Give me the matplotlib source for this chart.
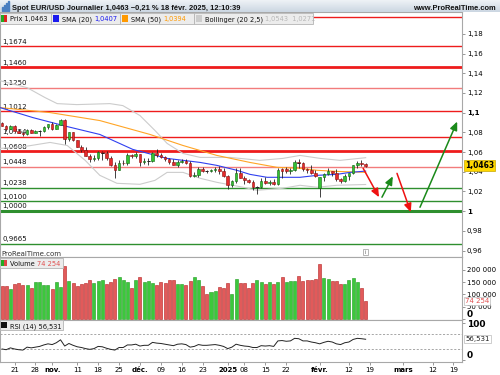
import matplotlib
matplotlib.use("Agg")
import matplotlib.pyplot as plt
import numpy as np
import pandas as pd
from matplotlib.patches import Rectangle
from matplotlib.colors import LinearSegmentedColormap

plt.rcParams['font.family'] = ['DejaVu Sans']

# ---------------- data ----------------
opens = [1.0893,1.0862,1.0833,1.0867,1.0816,1.0797,1.0782,1.0827,1.0797,1.0815,
         1.0817,1.0856,1.0884,1.0833,1.0878,1.0929,1.0730,1.0801,1.0719,1.0655,
         1.0624,1.0565,1.0530,1.0541,1.0598,1.0595,1.0542,1.0472,1.0418,1.0494,
         1.0487,1.0566,1.0558,1.0577,1.0497,1.0512,1.0512,1.0587,1.0566,1.0555,
         1.0529,1.0499,1.0469,1.0501,1.0513,1.0489,1.0353,1.0364,1.0430,1.0407,
         1.0406,1.0422,1.0428,1.0405,1.0354,1.0265,1.0307,1.0389,1.0341,1.0318,
         1.0301,1.0244,1.0244,1.0307,1.0290,1.0300,1.0272,1.0430,1.0425,1.0409,
         1.0416,1.0495,1.0493,1.0430,1.0422,1.0391,1.0240,1.0345,1.0379,1.0405,
         1.0383,1.0329,1.0307,1.0361,1.0383,1.0465,1.0493,1.0483]
highs = [1.0903,1.0872,1.0872,1.0870,1.0834,1.0805,1.0838,1.0837,1.0824,1.0827,
         1.0862,1.0888,1.0905,1.0890,1.0937,1.0937,1.0805,1.0807,1.0724,1.0670,
         1.0653,1.0580,1.0566,1.0610,1.0608,1.0610,1.0556,1.0497,1.0515,1.0517,
         1.0590,1.0584,1.0597,1.0578,1.0540,1.0545,1.0596,1.0629,1.0594,1.0560,
         1.0540,1.0527,1.0520,1.0526,1.0525,1.0514,1.0402,1.0444,1.0445,1.0416,
         1.0429,1.0444,1.0456,1.0436,1.0367,1.0317,1.0436,1.0438,1.0354,1.0324,
         1.0312,1.0253,1.0332,1.0352,1.0312,1.0322,1.0435,1.0438,1.0452,1.0436,
         1.0521,1.0532,1.0497,1.0442,1.0466,1.0417,1.0347,1.0385,1.0442,1.0407,
         1.0428,1.0337,1.0374,1.0388,1.0470,1.0513,1.0515,1.0490]
lows = [1.0860,1.0811,1.0830,1.0812,1.0790,1.0761,1.0772,1.0791,1.0790,1.0762,
        1.0806,1.0838,1.0826,1.0833,1.0873,1.0683,1.0717,1.0714,1.0652,1.0596,
        1.0560,1.0496,1.0514,1.0524,1.0522,1.0522,1.0462,1.0335,1.0420,1.0467,
        1.0467,1.0545,1.0541,1.0460,1.0483,1.0472,1.0502,1.0549,1.0545,1.0510,
        1.0483,1.0465,1.0452,1.0489,1.0478,1.0343,1.0344,1.0343,1.0395,1.0389,
        1.0400,1.0397,1.0381,1.0352,1.0226,1.0249,1.0290,1.0337,1.0273,1.0288,
        1.0213,1.0178,1.0232,1.0275,1.0268,1.0266,1.0268,1.0342,1.0390,1.0376,
        1.0410,1.0435,1.0412,1.0384,1.0381,1.0350,1.0141,1.0311,1.0365,1.0356,
        1.0311,1.0284,1.0299,1.0315,1.0373,1.0440,1.0460,1.0450]
closes = [1.0862,1.0833,1.0867,1.0816,1.0797,1.0782,1.0827,1.0797,1.0815,1.0817,
          1.0856,1.0884,1.0833,1.0878,1.0929,1.0730,1.0801,1.0719,1.0655,1.0624,
          1.0565,1.0530,1.0541,1.0598,1.0595,1.0542,1.0472,1.0418,1.0494,1.0487,
          1.0566,1.0558,1.0577,1.0497,1.0512,1.0512,1.0587,1.0566,1.0555,1.0529,
          1.0499,1.0469,1.0501,1.0513,1.0489,1.0353,1.0364,1.0430,1.0407,1.0406,
          1.0422,1.0428,1.0405,1.0354,1.0265,1.0307,1.0389,1.0341,1.0318,1.0301,
          1.0244,1.0246,1.0307,1.0290,1.0300,1.0272,1.0417,1.0410,1.0409,1.0416,
          1.0495,1.0493,1.0430,1.0422,1.0391,1.0362,1.0345,1.0379,1.0405,1.0383,
          1.0329,1.0307,1.0361,1.0383,1.0465,1.0493,1.0483,1.0463]

volume_k = [135,135,122,141,148,139,139,126,150,150,
            139,139,122,150,130,216,155,146,134,143,
            146,159,146,155,159,141,151,163,171,159,
            151,125,158,171,150,155,146,139,150,148,
            159,159,141,143,139,155,171,159,135,102,
            110,116,129,125,146,102,163,146,146,125,
            146,158,150,141,150,141,151,173,150,155,
            155,177,155,159,159,163,225,169,163,155,
            155,141,141,159,169,151,125,74.254]
volume_dir = ("RRGRRRGRGG" "GGRGGRGRRR" "RRGGGRRRGG" "GRGRGGGRRR"
              "RRGGRRGGRR" "GGRRRGGRRR" "RGGRGRGRGG" "GRRRRRRGGR" "RRGGGGRR")

rsi = [30,28,33,30,28,27,35,33,35,37,41,44,42,47,55,38,45,40,36,34,
       31,29,31,37,36,32,29,27,34,34,41,41,43,38,40,40,48,46,45,43,
       41,39,43,44,42,35,37,42,40,40,41,42,40,37,31,35,43,40,38,37,
       34,34,39,38,39,37,52,53,51,52,59,58,52,52,49,47,44,48,51,49,
       44,42,47,49,56,59,58,56.5]

sma20_x = [-0.5,7.4,15.6,23.4,31.3,39.5,47.4,51.4,56.2,59.3,63.4,67.2,71.3,75.4,80.1,83.3,87]
sma20_y = [1.1052,1.0950,1.0859,1.0779,1.0627,1.0536,1.0495,1.0465,1.0415,1.0374,1.0344,1.0344,1.0344,1.0364,1.0374,1.0394,1.0407]
sma50_x = [-0.5,11.5,23.4,35.4,43.3,51.4,59.3,65.8,71.3,75.4,80.1,87]
sma50_y = [1.1052,1.1001,1.0920,1.0779,1.0667,1.0566,1.0495,1.0445,1.0435,1.0415,1.0404,1.0394]
bb_up_x = [-0.5,6.0,10.3,13.2,17.9,25.8,28.9,33.0,36.6,39.5,43.3,47.4,54.5,61.7,67.2,71.3,76.1,80.9,87]
bb_up_y = [1.1325,1.1254,1.1153,1.1092,1.1082,1.1092,1.1072,1.0971,1.0819,1.0688,1.0586,1.0546,1.0546,1.0516,1.0536,1.0566,1.0536,1.0516,1.0543]
bb_lo_x = [-0.5,5.5,11.5,15.6,19.9,23.4,27.5,33.0,36.6,39.5,43.3,47.4,51.4,57.7,61.0,67.2,71.3,75.4,80.1,87]
bb_lo_y = [1.0637,1.0657,1.0698,1.0667,1.0516,1.0364,1.0283,1.0273,1.0313,1.0394,1.0394,1.0334,1.0293,1.0243,1.0212,1.0233,1.0263,1.0243,1.0263,1.0271]

levels = [1.1970,1.1674,1.1460,1.1250,1.1012,1.0754,1.0608,1.0448,1.0238,1.0100,1.0000,0.9665]
level_labels = ["","1,1674","1,1460","1,1250","1,1012","1,0754","1,0608","1,0448","1,0238","1,0100","1,0000","0,9665"]
level_kind = ["r","r","r2","rl","r","r","r2","rl","g","g","g2","g"]

arrows_from = [(86.4,1.0435),(90.9,1.0142),(94.5,1.0384),(100.0,1.0040)]
arrows_to = [(90.2,1.0142),(93.5,1.0354),(97.8,0.9990),(108.9,1.0910)]
arrow_kind = ["r","g","r","g"]

tick_dates = ["2024-10-21","2024-10-28","2024-11-01","2024-11-11","2024-11-18","2024-11-25",
              "2024-12-02","2024-12-09","2024-12-16","2024-12-23","2025-01-02","2025-01-08",
              "2025-01-15","2025-01-22","2025-02-03","2025-02-12","2025-02-19","2025-03-03",
              "2025-03-12","2025-03-19"]
tick_labels = ["21","28","nov.","11","18","25","déc.","09","16","23","2025","08","15","22",
               "févr.","12","19","mars","12","19"]
bold_ticks = {"nov.","déc.","2025","févr.","mars"}

price_ticks = [1.18,1.16,1.14,1.12,1.10,1.08,1.06,1.04,1.02,1.00,0.98,0.96]
price_tick_labels = ["1,18","1,16","1,14","1,12","1,1","1,08","1,06","1,04","1,02","1","0,98","0,96"]
vol_ticks = [0,50000,100000,150000,200000]
vol_tick_labels = ["0","50 000","100 000","150 000","200 000"]

# ---------------- layout ----------------
W, H = 500, 375
fig = plt.figure(figsize=(5, 3.75), dpi=100)
fig.patch.set_facecolor("white")

def rect(x0, y0, x1, y1):
    return [x0 / W, 1 - y1 / H, (x1 - x0) / W, (y1 - y0) / H]

days = pd.bdate_range("2024-10-16", "2025-03-31")
days = days[~days.isin(pd.to_datetime(["2024-12-25", "2025-01-01"]))]
pos_of = {d.strftime("%Y-%m-%d"): i for i, d in enumerate(days)}
tick_pos = [pos_of[d] for d in tick_dates]

XMIN, XMAX = -0.48, 110.05
RIGHT = 462
ax = fig.add_axes(rect(0, 12, RIGHT, 257))
axv = fig.add_axes(rect(0, 257, RIGHT, 320))
axr = fig.add_axes(rect(0, 320, RIGHT, 362))

spine_c = "#a8a8a8"
for a in (ax, axv, axr):
    a.set_xlim(XMIN, XMAX)
    a.set_facecolor("white")
    for s in a.spines.values():
        s.set_color(spine_c)
        s.set_linewidth(0.8)
    a.yaxis.tick_right()
    a.tick_params(axis="y", which="both", length=2, width=0.6, color="#888888",
                  labelsize=5, pad=1.5)
    a.tick_params(axis="x", length=0)
    a.set_xticks([])

# main panel
ax.set_ylim(0.9535, 1.2022)
x = np.arange(len(closes))
ax.set_yticks(price_ticks)
ax.set_yticklabels(price_tick_labels)
for lab in ax.get_yticklabels():
    if lab.get_text() in ("1,1", "1"):
        lab.set_fontweight("bold")

style = {"r": ("#ee1c1c", 1.0), "r2": ("#ee1c1c", 2.0), "rl": ("#f27c7c", 1.0),
         "g": ("#2f8f2f", 1.0), "g2": ("#2f8f2f", 2.2)}
for lv, lab, k in zip(levels, level_labels, level_kind):
    c, lw = style[k]
    ax.axhline(lv, color=c, lw=lw, zorder=1)
    if lab:
        ax.annotate(lab, xy=(0, lv), xycoords=("axes fraction", "data"),
                    xytext=(1.5, 2.0), textcoords="offset points",
                    fontsize=5, va="baseline", ha="left", color="#111111", zorder=2)

ax.plot(bb_up_x, bb_up_y, color="#cccccc", lw=0.8, zorder=3)
ax.plot(bb_lo_x, bb_lo_y, color="#cccccc", lw=0.8, zorder=3)
ax.plot(sma50_x, sma50_y, color="#ffa526", lw=0.8, zorder=3)
ax.plot(sma20_x, sma20_y, color="#3040f0", lw=0.8, zorder=3)

o = np.array(opens); c = np.array(closes)
up = c >= o
ax.vlines(x, lows, highs, color="#222222", lw=0.6, zorder=4)
ax.bar(x[up], (c - o)[up], bottom=o[up], width=0.62, color="#33c233",
       edgecolor="#116611", linewidth=0.4, zorder=5)
ax.bar(x[~up], (o - c)[~up], bottom=c[~up], width=0.62, color="#e52b2b",
       edgecolor="#8a0f0f", linewidth=0.4, zorder=5)
flat = np.abs(c - o) < 0.0004
ax.hlines(c[flat], x[flat] - 0.4, x[flat] + 0.4, color="#222222", lw=0.7, zorder=6)

for (x0, y0), (x1, y1), k in zip(arrows_from, arrows_to, arrow_kind):
    col = "#ee1111" if k == "r" else "#1a8a1a"
    ax.annotate("", xy=(x1, y1), xytext=(x0, y0),
                arrowprops=dict(arrowstyle="-|>,head_length=0.5,head_width=0.22",
                                color=col, lw=1.1, shrinkA=0, shrinkB=0), zorder=7)

ax.annotate("1,0463", xy=(1, closes[-1]), xycoords=("axes fraction", "data"),
            xytext=(2.2, 0), textcoords="offset points", fontsize=5.5,
            fontweight="bold", va="center", ha="left", annotation_clip=False,
            bbox=dict(boxstyle="square,pad=0.15", fc="#ffd700", ec="#c8a800", lw=0.5),
            zorder=10)

# volume panel
axv.set_ylim(-4082, 253000)
vol = np.array(volume_k) * 1000
vcol = ["#3cc83c" if d == "G" else "#e25a5a" for d in volume_dir]
vedge = ["#1f9a1f" if d == "G" else "#b52020" for d in volume_dir]
axv.bar(x, vol, width=0.72, color=vcol, edgecolor=vedge, linewidth=0.4, zorder=3)
axv.set_yticks(vol_ticks)
axv.set_yticklabels(vol_tick_labels)
for lab in axv.get_yticklabels():
    if lab.get_text() == "0":
        lab.set_fontweight("bold"); lab.set_fontsize(6.5); lab.set_va("bottom")
axv.annotate("74 254", xy=(1, vol[-1]), xycoords=("axes fraction", "data"),
             xytext=(2.2, 0), textcoords="offset points", fontsize=5,
             color="#e05050", va="center", ha="left", annotation_clip=False,
             bbox=dict(boxstyle="square,pad=0.15", fc="white", ec="#bbbbbb", lw=0.5),
             zorder=10)

# RSI panel
axr.set_ylim(-5.5, 109)
axr.axhline(70, color="#999999", lw=0.6, ls=(0, (2.5, 2)))
axr.axhline(30, color="#999999", lw=0.6, ls=(0, (2.5, 2)))
axr.plot(x, rsi, color="#222222", lw=0.7)
axr.set_yticks([0, 100])
axr.set_yticklabels(["0", "100"])
for lab in axr.get_yticklabels():
    lab.set_fontweight("bold"); lab.set_fontsize(6.5)
    if lab.get_text() == "0":
        lab.set_va("bottom")
axr.annotate("56,531", xy=(1, rsi[-1]), xycoords=("axes fraction", "data"),
             xytext=(2.2, 0), textcoords="offset points", fontsize=5,
             color="#222222", va="center", ha="left", annotation_clip=False,
             bbox=dict(boxstyle="square,pad=0.15", fc="white", ec="#bbbbbb", lw=0.5),
             zorder=10)
axr.set_xticks(tick_pos)
axr.set_xticklabels(tick_labels)
axr.tick_params(axis="x", length=2, width=0.6, color="#888888", labelsize=5, pad=1.5,
                direction="out")
for lab in axr.get_xticklabels():
    if lab.get_text() in bold_ticks:
        lab.set_fontweight("bold")

# ---------------- header & legend boxes ----------------
hdr = fig.add_axes(rect(0, 0, 500, 12))
grad = np.linspace(0, 1, 20).reshape(-1, 1)
cmap = LinearSegmentedColormap.from_list("hdr", ["#eef2f6", "#ccd7e2"])
hdr.imshow(grad, aspect="auto", cmap=cmap, extent=[0, 1, 0, 1], origin="upper")
hdr.set_axis_off()
for i, hgt in enumerate([0.35, 0.55, 0.75, 0.95]):
    hdr.add_patch(Rectangle((0.004 + i * 0.004, 0.12), 0.0025, hgt * 0.8,
                            color="#4a7fc0", transform=hdr.transAxes))

def ftxt(px, py, s, **kw):
    return fig.text(px / W, 1 - py / H, s, **kw)

ftxt(12, 9.5, "Spot EUR/USD Journalier 1,0463 \u22120,21 % 18 févr. 2025, 12:10:39",
     fontsize=5.4, fontweight="bold", color="#111111", va="baseline",
     family=["Liberation Sans", "DejaVu Sans"])
ftxt(496, 9.5, "www.ProRealTime.com", fontsize=5.4, fontweight="bold",
     color="#111111", va="baseline", ha="right",
     family=["Liberation Sans", "DejaVu Sans"])

def fbox(x0, y0, x1, y1, fc="#ececec", ec="#b4b4b4"):
    fig.patches.append(Rectangle((x0 / W, 1 - y1 / H), (x1 - x0) / W, (y1 - y0) / H,
                                 transform=fig.transFigure, fc=fc, ec=ec, lw=0.6,
                                 zorder=20))

def icon(x0, y0, cols):
    n = len(cols)
    for i, cc in enumerate(cols):
        fig.patches.append(Rectangle(((x0 + i * 6 / n) / W, 1 - (y0 + 6) / H),
                                     (6 / n) / W, 6 / H, transform=fig.transFigure,
                                     fc=cc, ec="none", zorder=21))

def seg_text(x0, y, parts):
    r = fig.canvas.get_renderer()
    cx = x0
    for s, col in parts:
        t = fig.text(cx / W, 1 - y / H, s, fontsize=4.8, color=col, va="baseline",
                     zorder=22)
        bb = t.get_window_extent(renderer=r)
        cx += bb.width * W / fig.bbox.width

fbox(0, 13, 51, 24); icon(1, 15.5, ["#22aa22", "#dd2222"])
seg_text(10, 21.5, [("Prix 1,0463", "#111111")])
fbox(51, 13, 120, 24); icon(53, 15.5, ["#1a1aee"])
seg_text(62, 21.5, [("SMA (20) ", "#111111"), ("1,0407", "#1a1aee")])
fbox(120, 13, 194, 24); icon(122, 15.5, ["#ff9900"])
seg_text(131, 21.5, [("SMA (50) ", "#111111"), ("1,0394", "#ff9900")])
fbox(194, 13, 313, 24); icon(196, 15.5, ["#cccccc"])
seg_text(205, 21.5, [("Bollinger (20 2,5) ", "#111111"), ("1,0543  1,0271", "#b8b8b8")])

ftxt(1, 255.5, "ProRealTime.com", fontsize=5, color="#333333", va="baseline")
fbox(363, 249, 368, 255, fc="white", ec="#aaaaaa")
ftxt(365.5, 254.3, "i", fontsize=3.5, color="#555555", va="baseline", ha="center",
     zorder=23)

fbox(0, 258, 63, 268); icon(1, 260, ["#22aa22", "#dd4444"])
seg_text(10, 266, [("Volume ", "#111111"), ("74 254", "#e05050")])
fbox(0, 320, 63, 330); icon(1, 322, ["#111111"])
seg_text(10, 328, [("RSI (14) 56,531", "#111111")])

fig.savefig("out.png", dpi=100)
